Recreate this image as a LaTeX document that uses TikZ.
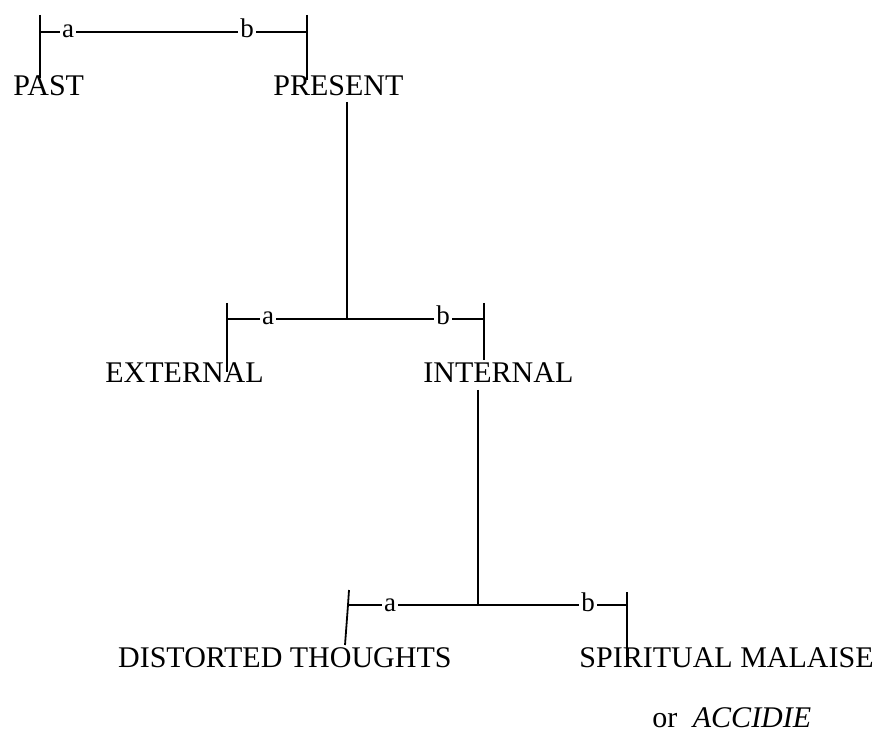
\documentclass[tikz,border=0pt]{standalone}
\usepackage{fontspec}
\setmainfont{Liberation Serif}
\usetikzlibrary{positioning}

\begin{document}
\begin{tikzpicture}[x=0.5pt, y=-0.5pt,
      term/.style={font=\fontsize{15}{18}\selectfont, inner sep=0pt, anchor=base west},
      branch/.style={line width=0.9pt, black},
      tag/.style={font=\fontsize{13.5}{15}\selectfont, fill=white,
        inner xsep=1pt, inner ysep=0.5pt, anchor=base}
    ]
    \useasboundingbox (0,0) rectangle (882,731);

    % first split: past / present
    \node[term] (past) at (13,96) {PAST};
    \node[term] (present) at (273,96) {PRESENT};
    \coordinate (s1lt) at (40,15);
    \coordinate (s1l)  at (40,32);
    \coordinate (s1lb) at (40,78);
    \coordinate (s1rt) at (307,15);
    \coordinate (s1r)  at (307,32);
    \coordinate (s1rb) at (307,80);
    \draw[branch] (s1lt) -- (s1lb);
    \draw[branch] (s1rt) -- (s1rb);
    \draw[branch] (s1l) -- (s1r);
    \node[tag] (s1a) at (68,38) {a};
    \node[tag] (s1b) at (247,38) {b};

    % present -> external / internal
    \coordinate (p0) at (347,102);
    \coordinate (s2j) at (347,319);
    \draw[branch] (p0) -- (s2j);
    \node[term] (external) at (105,383) {EXTERNAL};
    \node[term] (internal) at (423,383) {INTERNAL};
    \coordinate (s2lt) at (227,303);
    \coordinate (s2l)  at (227,319);
    \coordinate (s2lb) at (227,372);
    \coordinate (s2rt) at (484,303);
    \coordinate (s2r)  at (484,319);
    \coordinate (s2rb) at (484,360);
    \draw[branch] (s2lt) -- (s2lb);
    \draw[branch] (s2rt) -- (s2rb);
    \draw[branch] (s2l) -- (s2r);
    \node[tag] (s2a) at (268,325) {a};
    \node[tag] (s2b) at (443,325) {b};

    % internal -> thoughts / malaise
    \coordinate (i0) at (478,390);
    \coordinate (s3j) at (478,605);
    \draw[branch] (i0) -- (s3j);
    \node[term, anchor=base east] (thoughts) at (452,667) {DISTORTED THOUGHTS};
    \node[term, anchor=base east] (malaise) at (874,667) {SPIRITUAL MALAISE};
    \node[term] (accidie) at (652,727) {or\hspace{4pt} \textit{ACCIDIE}};
    \coordinate (s3lt) at (349,590);
    \coordinate (s3l)  at (348,605);
    \coordinate (s3lb) at (345,645);
    \coordinate (s3rt) at (627,592);
    \coordinate (s3r)  at (627,605);
    \coordinate (s3rb) at (627,660);
    \draw[branch] (s3lt) -- (s3l) -- (s3lb);
    \draw[branch] (s3rt) -- (s3rb);
    \draw[branch] (s3l) -- (s3r);
    \node[tag] (s3a) at (390,611) {a};
    \node[tag] (s3b) at (588,611) {b};
  \end{tikzpicture}
\end{document}
